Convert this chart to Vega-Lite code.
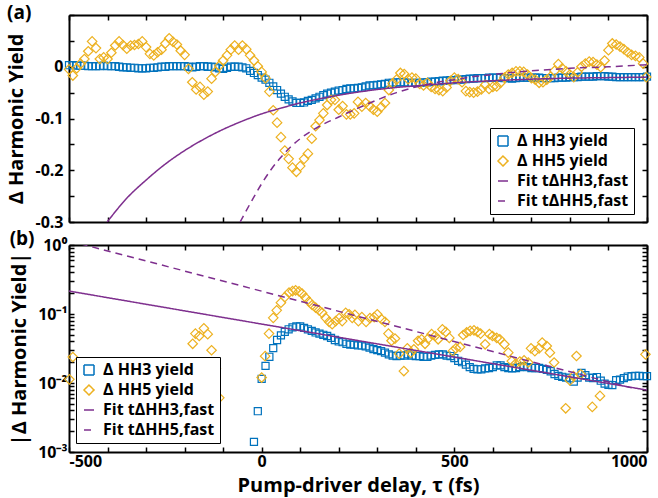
{
  "$schema": "https://vega.github.io/schema/vega-lite/v6.json",
  "padding": {"left": 6, "top": 4, "right": 6, "bottom": 2},
  "spacing": 0,
  "datasets": {
    "top_hh3": [
      {"t":-500,"v":0.003},{"t":-490,"v":0.003},{"t":-480,"v":0.002},{"t":-470,"v":0.002},{"t":-460,"v":0.002},
      {"t":-450,"v":0.001},{"t":-440,"v":0.001},{"t":-430,"v":0.001},{"t":-420,"v":0.001},{"t":-410,"v":0.002},
      {"t":-400,"v":0.001},{"t":-390,"v":0.001},{"t":-380,"v":0.001},{"t":-370,"v":0.000},{"t":-360,"v":-0.001},
      {"t":-350,"v":-0.001},{"t":-340,"v":-0.002},{"t":-330,"v":-0.002},{"t":-320,"v":-0.003},{"t":-310,"v":-0.003},
      {"t":-300,"v":-0.003},{"t":-290,"v":-0.002},{"t":-280,"v":-0.002},{"t":-270,"v":-0.001},{"t":-260,"v":0.000},
      {"t":-250,"v":0.000},{"t":-240,"v":0.001},{"t":-230,"v":0.001},{"t":-220,"v":0.001},{"t":-210,"v":0.001},
      {"t":-200,"v":0.001},{"t":-190,"v":0.000},{"t":-180,"v":-0.001},{"t":-170,"v":0.000},{"t":-160,"v":0.001},
      {"t":-150,"v":0.001},{"t":-140,"v":0.000},{"t":-130,"v":0.000},{"t":-120,"v":-0.001},{"t":-110,"v":-0.003},
      {"t":-100,"v":-0.004},{"t":-90,"v":-0.002},{"t":-80,"v":0.000},{"t":-70,"v":0.000},{"t":-60,"v":0.000},
      {"t":-50,"v":-0.001},{"t":-40,"v":-0.003},{"t":-30,"v":-0.008},{"t":-20,"v":-0.012},{"t":-10,"v":-0.016},
      {"t":0,"v":-0.021},{"t":10,"v":-0.025},{"t":20,"v":-0.031},{"t":30,"v":-0.038},{"t":40,"v":-0.045},
      {"t":50,"v":-0.052},{"t":60,"v":-0.058},{"t":70,"v":-0.063},{"t":80,"v":-0.067},{"t":90,"v":-0.070},
      {"t":100,"v":-0.070},{"t":110,"v":-0.069},{"t":120,"v":-0.066},{"t":130,"v":-0.064},{"t":140,"v":-0.061},
      {"t":150,"v":-0.058},{"t":160,"v":-0.055},{"t":170,"v":-0.052},{"t":180,"v":-0.050},{"t":190,"v":-0.048},
      {"t":200,"v":-0.046},{"t":210,"v":-0.045},{"t":220,"v":-0.043},{"t":230,"v":-0.042},{"t":240,"v":-0.042},
      {"t":250,"v":-0.041},{"t":260,"v":-0.040},{"t":270,"v":-0.038},{"t":280,"v":-0.036},{"t":290,"v":-0.036},
      {"t":300,"v":-0.035},{"t":310,"v":-0.034},{"t":320,"v":-0.033},{"t":330,"v":-0.031},{"t":340,"v":-0.031},
      {"t":350,"v":-0.030},{"t":360,"v":-0.030},{"t":370,"v":-0.030},{"t":380,"v":-0.031},{"t":390,"v":-0.031},
      {"t":400,"v":-0.031},{"t":410,"v":-0.031},{"t":420,"v":-0.030},{"t":430,"v":-0.030},{"t":440,"v":-0.029},
      {"t":450,"v":-0.029},{"t":460,"v":-0.028},{"t":470,"v":-0.027},{"t":480,"v":-0.027},{"t":490,"v":-0.026},
      {"t":500,"v":-0.026},{"t":510,"v":-0.025},{"t":520,"v":-0.025},{"t":530,"v":-0.024},{"t":540,"v":-0.023},
      {"t":550,"v":-0.023},{"t":560,"v":-0.022},{"t":570,"v":-0.022},{"t":580,"v":-0.022},{"t":590,"v":-0.021},
      {"t":600,"v":-0.021},{"t":610,"v":-0.021},{"t":620,"v":-0.021},{"t":630,"v":-0.022},{"t":640,"v":-0.022},
      {"t":650,"v":-0.023},{"t":660,"v":-0.022},{"t":670,"v":-0.021},{"t":680,"v":-0.021},{"t":690,"v":-0.021},
      {"t":700,"v":-0.021},{"t":710,"v":-0.021},{"t":720,"v":-0.021},{"t":730,"v":-0.022},{"t":740,"v":-0.022},
      {"t":750,"v":-0.022},{"t":760,"v":-0.022},{"t":770,"v":-0.021},{"t":780,"v":-0.021},{"t":790,"v":-0.021},
      {"t":800,"v":-0.020},{"t":810,"v":-0.020},{"t":820,"v":-0.020},{"t":830,"v":-0.019},{"t":840,"v":-0.019},
      {"t":850,"v":-0.019},{"t":860,"v":-0.019},{"t":870,"v":-0.018},{"t":880,"v":-0.018},{"t":890,"v":-0.018},
      {"t":900,"v":-0.019},{"t":910,"v":-0.019},{"t":920,"v":-0.020},{"t":930,"v":-0.020},{"t":940,"v":-0.020},
      {"t":950,"v":-0.020},{"t":960,"v":-0.020},{"t":970,"v":-0.020},{"t":980,"v":-0.020},{"t":990,"v":-0.020},
      {"t":1000,"v":-0.019}
    ],
    "top_hh5": [
      {"t":-500,"v":-0.005},{"t":-490,"v":-0.017},{"t":-480,"v":-0.003},{"t":-470,"v":0.006},{"t":-460,"v":0.015},
      {"t":-450,"v":0.030},{"t":-440,"v":0.049},{"t":-430,"v":0.036},{"t":-420,"v":0.015},{"t":-410,"v":0.018},
      {"t":-400,"v":0.015},{"t":-390,"v":0.027},{"t":-380,"v":0.041},{"t":-370,"v":0.049},{"t":-360,"v":0.042},
      {"t":-350,"v":0.035},{"t":-340,"v":0.041},{"t":-330,"v":0.042},{"t":-320,"v":0.044},{"t":-310,"v":0.049},
      {"t":-300,"v":0.038},{"t":-290,"v":0.025},{"t":-280,"v":0.022},{"t":-270,"v":0.028},{"t":-260,"v":0.033},
      {"t":-250,"v":0.045},{"t":-240,"v":0.055},{"t":-230,"v":0.048},{"t":-220,"v":0.043},{"t":-210,"v":0.031},
      {"t":-200,"v":0.023},{"t":-190,"v":-0.004},{"t":-180,"v":-0.030},{"t":-170,"v":-0.044},{"t":-160,"v":-0.039},
      {"t":-150,"v":-0.054},{"t":-140,"v":-0.048},{"t":-130,"v":-0.023},{"t":-120,"v":-0.010},{"t":-110,"v":0.002},
      {"t":-100,"v":0.012},{"t":-90,"v":0.022},{"t":-80,"v":0.033},{"t":-70,"v":0.041},{"t":-60,"v":0.033},
      {"t":-50,"v":0.041},{"t":-40,"v":0.034},{"t":-30,"v":0.022},{"t":-20,"v":0.012},{"t":-10,"v":0.001},
      {"t":0,"v":-0.010},{"t":10,"v":-0.022},{"t":20,"v":-0.048},{"t":30,"v":-0.084},{"t":40,"v":-0.108},
      {"t":50,"v":-0.136},{"t":60,"v":-0.162},{"t":70,"v":-0.178},{"t":80,"v":-0.195},{"t":90,"v":-0.203},
      {"t":100,"v":-0.192},{"t":110,"v":-0.178},{"t":120,"v":-0.168},{"t":130,"v":-0.139},{"t":140,"v":-0.115},
      {"t":150,"v":-0.103},{"t":160,"v":-0.090},{"t":170,"v":-0.074},{"t":180,"v":-0.064},{"t":190,"v":-0.064},
      {"t":200,"v":-0.083},{"t":210,"v":-0.076},{"t":220,"v":-0.092},{"t":230,"v":-0.092},{"t":240,"v":-0.090},
      {"t":250,"v":-0.068},{"t":260,"v":-0.077},{"t":270,"v":-0.070},{"t":280,"v":-0.076},{"t":290,"v":-0.083},
      {"t":300,"v":-0.087},{"t":310,"v":-0.078},{"t":320,"v":-0.070},{"t":330,"v":-0.045},{"t":340,"v":-0.032},
      {"t":350,"v":-0.025},{"t":360,"v":-0.012},{"t":370,"v":-0.014},{"t":380,"v":-0.024},{"t":390,"v":-0.021},
      {"t":400,"v":-0.023},{"t":410,"v":-0.033},{"t":420,"v":-0.036},{"t":430,"v":-0.031},{"t":440,"v":-0.039},
      {"t":450,"v":-0.043},{"t":460,"v":-0.045},{"t":470,"v":-0.047},{"t":480,"v":-0.040},{"t":490,"v":-0.027},
      {"t":500,"v":-0.021},{"t":510,"v":-0.024},{"t":520,"v":-0.030},{"t":530,"v":-0.047},{"t":540,"v":-0.049},
      {"t":550,"v":-0.050},{"t":560,"v":-0.048},{"t":570,"v":-0.044},{"t":580,"v":-0.035},{"t":590,"v":-0.043},
      {"t":600,"v":-0.039},{"t":610,"v":-0.038},{"t":620,"v":-0.031},{"t":630,"v":-0.021},{"t":640,"v":-0.015},
      {"t":650,"v":-0.012},{"t":660,"v":-0.009},{"t":670,"v":-0.009},{"t":680,"v":-0.010},{"t":690,"v":-0.015},
      {"t":700,"v":-0.022},{"t":710,"v":-0.025},{"t":720,"v":-0.031},{"t":730,"v":-0.030},{"t":740,"v":-0.025},
      {"t":750,"v":-0.019},{"t":760,"v":-0.008},{"t":770,"v":0.005},{"t":780,"v":-0.003},{"t":790,"v":-0.009},
      {"t":800,"v":-0.015},{"t":810,"v":-0.020},{"t":820,"v":-0.011},{"t":830,"v":0.000},{"t":840,"v":0.006},
      {"t":850,"v":0.010},{"t":860,"v":0.009},{"t":870,"v":0.004},{"t":880,"v":-0.001},{"t":890,"v":0.012},
      {"t":900,"v":0.032},{"t":910,"v":0.045},{"t":920,"v":0.043},{"t":930,"v":0.039},{"t":940,"v":0.034},
      {"t":950,"v":0.028},{"t":960,"v":0.023},{"t":970,"v":0.021},{"t":980,"v":0.018},{"t":990,"v":0.006},
      {"t":998,"v":-0.020}
    ],
    "top_fit3": [
      {"t":-401,"v":-0.300},{"t":-350,"v":-0.254},{"t":-300,"v":-0.219},{"t":-250,"v":-0.188},{"t":-200,"v":-0.162},
      {"t":-150,"v":-0.140},{"t":-100,"v":-0.121},{"t":-50,"v":-0.105},{"t":0,"v":-0.091},{"t":50,"v":-0.080},
      {"t":100,"v":-0.070},{"t":150,"v":-0.062},{"t":200,"v":-0.055},{"t":250,"v":-0.049},{"t":300,"v":-0.044},
      {"t":350,"v":-0.040},{"t":400,"v":-0.037},{"t":500,"v":-0.031},{"t":600,"v":-0.027},{"t":700,"v":-0.024},
      {"t":800,"v":-0.022},{"t":900,"v":-0.021},{"t":1000,"v":-0.020}
    ],
    "top_fit5": [
      {"t":-56,"v":-0.300},{"t":-25,"v":-0.258},{"t":0,"v":-0.226},{"t":25,"v":-0.198},{"t":50,"v":-0.175},
      {"t":75,"v":-0.155},{"t":100,"v":-0.139},{"t":125,"v":-0.126},{"t":150,"v":-0.115},{"t":200,"v":-0.097},
      {"t":250,"v":-0.080},{"t":300,"v":-0.064},{"t":350,"v":-0.050},{"t":400,"v":-0.039},{"t":450,"v":-0.031},
      {"t":500,"v":-0.025},{"t":550,"v":-0.019},{"t":600,"v":-0.015},{"t":650,"v":-0.011},{"t":700,"v":-0.008},
      {"t":800,"v":-0.003},{"t":900,"v":0.000},{"t":1000,"v":0.004}
    ],
    "bot_hh3": [
      {"t":-20,"v":0.0014},{"t":-10,"v":0.0039},{"t":0,"v":0.0115},{"t":10,"v":0.0177},{"t":20,"v":0.024},
      {"t":30,"v":0.032},{"t":40,"v":0.042},{"t":50,"v":0.049},{"t":60,"v":0.055},{"t":70,"v":0.060},
      {"t":80,"v":0.064},{"t":90,"v":0.066},{"t":100,"v":0.066},{"t":110,"v":0.063},{"t":120,"v":0.060},
      {"t":130,"v":0.057},{"t":140,"v":0.054},{"t":150,"v":0.052},{"t":160,"v":0.050},{"t":170,"v":0.048},
      {"t":180,"v":0.045},{"t":190,"v":0.042},{"t":200,"v":0.040},{"t":210,"v":0.039},{"t":220,"v":0.037},
      {"t":230,"v":0.036},{"t":240,"v":0.036},{"t":250,"v":0.035},{"t":260,"v":0.035},{"t":270,"v":0.034},
      {"t":280,"v":0.0325},{"t":290,"v":0.031},{"t":300,"v":0.030},{"t":310,"v":0.029},{"t":320,"v":0.0275},
      {"t":330,"v":0.026},{"t":340,"v":0.025},{"t":350,"v":0.0246},{"t":360,"v":0.025},{"t":370,"v":0.025},
      {"t":380,"v":0.026},{"t":390,"v":0.025},{"t":400,"v":0.0246},{"t":410,"v":0.0246},{"t":420,"v":0.024},
      {"t":430,"v":0.024},{"t":440,"v":0.025},{"t":450,"v":0.0255},{"t":460,"v":0.026},{"t":470,"v":0.026},
      {"t":480,"v":0.025},{"t":490,"v":0.0246},{"t":500,"v":0.023},{"t":510,"v":0.021},{"t":520,"v":0.020},
      {"t":530,"v":0.0185},{"t":540,"v":0.017},{"t":550,"v":0.016},{"t":560,"v":0.0158},{"t":570,"v":0.0158},
      {"t":580,"v":0.0163},{"t":590,"v":0.0165},{"t":600,"v":0.017},{"t":610,"v":0.018},{"t":620,"v":0.018},
      {"t":630,"v":0.017},{"t":640,"v":0.0165},{"t":650,"v":0.0163},{"t":660,"v":0.0165},{"t":670,"v":0.017},
      {"t":680,"v":0.0175},{"t":690,"v":0.017},{"t":700,"v":0.0165},{"t":710,"v":0.0165},{"t":720,"v":0.0165},
      {"t":730,"v":0.016},{"t":740,"v":0.0155},{"t":750,"v":0.0148},{"t":760,"v":0.0135},{"t":770,"v":0.0127},
      {"t":780,"v":0.0123},{"t":790,"v":0.012},{"t":800,"v":0.0117},{"t":810,"v":0.0105},{"t":820,"v":0.012},
      {"t":830,"v":0.014},{"t":840,"v":0.013},{"t":850,"v":0.012},{"t":860,"v":0.0118},{"t":870,"v":0.0122},
      {"t":880,"v":0.0108},{"t":890,"v":0.0098},{"t":900,"v":0.0094},{"t":910,"v":0.0093},{"t":920,"v":0.011},
      {"t":930,"v":0.0112},{"t":940,"v":0.0118},{"t":950,"v":0.0124},{"t":960,"v":0.0126},{"t":970,"v":0.0127},
      {"t":980,"v":0.0127},{"t":990,"v":0.0126},{"t":1000,"v":0.0126}
    ],
    "bot_hh5": [
      {"t":-499,"v":0.0113},{"t":-490,"v":0.0238},{"t":-179,"v":0.037},{"t":-172,"v":0.052},{"t":-162,"v":0.048},
      {"t":-150,"v":0.062},{"t":-140,"v":0.051},{"t":-130,"v":0.0298},{"t":-119,"v":0.0161},{"t":-110,"v":0.0061},
      {"t":0,"v":0.012},{"t":9,"v":0.0245},{"t":19,"v":0.052},{"t":30,"v":0.088},{"t":39,"v":0.113},
      {"t":50,"v":0.146},{"t":60,"v":0.176},{"t":71,"v":0.204},{"t":80,"v":0.215},{"t":88,"v":0.22},
      {"t":97,"v":0.213},{"t":105,"v":0.197},{"t":114,"v":0.172},{"t":123,"v":0.151},{"t":131,"v":0.135},
      {"t":140,"v":0.124},{"t":149,"v":0.113},{"t":157,"v":0.104},{"t":166,"v":0.088},{"t":175,"v":0.077},
      {"t":183,"v":0.071},{"t":192,"v":0.079},{"t":201,"v":0.087},{"t":209,"v":0.079},{"t":218,"v":0.104},
      {"t":227,"v":0.099},{"t":235,"v":0.088},{"t":242,"v":0.097},{"t":251,"v":0.079},{"t":260,"v":0.09},
      {"t":271,"v":0.077},{"t":281,"v":0.087},{"t":292,"v":0.09},{"t":300,"v":0.099},{"t":311,"v":0.084},
      {"t":320,"v":0.077},{"t":329,"v":0.052},{"t":337,"v":0.041},{"t":346,"v":0.044},{"t":357,"v":0.0266},
      {"t":369,"v":0.0149},{"t":378,"v":0.0318},{"t":387,"v":0.0275},{"t":395,"v":0.0308},{"t":406,"v":0.041},
      {"t":415,"v":0.043},{"t":424,"v":0.037},{"t":432,"v":0.044},{"t":441,"v":0.051},{"t":450,"v":0.048},
      {"t":458,"v":0.043},{"t":469,"v":0.06},{"t":478,"v":0.055},{"t":487,"v":0.045},{"t":496,"v":0.029},
      {"t":504,"v":0.0318},{"t":515,"v":0.0333},{"t":523,"v":0.0496},{"t":532,"v":0.054},{"t":541,"v":0.057},
      {"t":551,"v":0.058},{"t":560,"v":0.055},{"t":568,"v":0.052},{"t":580,"v":0.0364},{"t":591,"v":0.051},
      {"t":599,"v":0.048},{"t":610,"v":0.045},{"t":618,"v":0.043},{"t":630,"v":0.0364},{"t":640,"v":0.0275},
      {"t":649,"v":0.0208},{"t":659,"v":0.019},{"t":670,"v":0.0205},{"t":681,"v":0.0213},{"t":692,"v":0.0198},
      {"t":699,"v":0.0318},{"t":709,"v":0.029},{"t":720,"v":0.0318},{"t":728,"v":0.0385},{"t":740,"v":0.0344},
      {"t":748,"v":0.0275},{"t":759,"v":0.0198},{"t":789,"v":0.0043},{"t":800,"v":0.0109},{"t":809,"v":0.0126},
      {"t":817,"v":0.0246},{"t":828,"v":0.0134},{"t":858,"v":0.0045},{"t":878,"v":0.0065},{"t":996,"v":0.026}
    ],
    "bot_fit3": [{"t":-500,"v":0.215},{"t":1000,"v":0.0079}],
    "bot_fit5": [{"t":-500,"v":1.15},{"t":960,"v":0.0085}]
  },
  "vconcat": [
    {
      "width": 578,
      "height": 207,
      "title": {"text": "(a)", "anchor": "start", "frame": "bounds", "fontSize": 19, "fontWeight": "bold", "font": "Open Sans", "color": "black", "offset": -16},
      "layer": [
        {
          "data": {"name": "top_hh3"},
          "mark": {"type": "point", "filled": false, "size": 50, "strokeWidth": 1.2, "opacity": 1},
          "encoding": {
            "x": {"field": "t", "type": "quantitative", "scale": {"domain": [-500, 1000], "nice": false, "zero": false},
                  "axis": {"orient": "bottom", "values": [-500,-400,-300,-200,-100,0,100,200,300,400,500,600,700,800,900,1000], "labels": false, "title": null, "tickSize": -5}},
            "y": {"field": "v", "type": "quantitative", "scale": {"domain": [-0.3, 0.1], "nice": false, "zero": false},
                  "axis": {"orient": "left", "values": [-0.3,-0.25,-0.2,-0.15,-0.1,-0.05,0,0.05,0.1], "labelOverlap": false,
                           "labelExpr": "datum.value === 0 ? '0' : (datum.value < 0 && abs(datum.value*10 - round(datum.value*10)) < 1e-6) ? '-0.' + round(-datum.value*10) : ''",
                           "title": "Δ Harmonic Yield", "tickSize": -5, "labelPadding": 11, "titlePadding": 8}},
            "color": {"datum": "Δ HH3 yield", "type": "nominal",
                      "scale": {"domain": ["Δ HH3 yield", "Δ HH5 yield", "Fit tΔHH3,fast", "Fit tΔHH5,fast"], "range": ["#0072BD", "#EDB120", "#7E2F8E", "#7E2F8E"]},
                      "legend": {"title": null, "orient": "none", "legendX": 421, "legendY": 113, "direction": "vertical",
                                 "strokeColor": "black", "fillColor": "white", "padding": 5, "labelLimit": 0,
                                 "labelFont": "Open Sans", "labelFontWeight": "bold", "labelFontSize": 16, "labelColor": "black",
                                 "rowPadding": 4, "labelOffset": 6, "symbolSize": 100, "symbolStrokeWidth": 1.5, "symbolFillColor": "transparent"}},
            "shape": {"datum": "Δ HH3 yield", "type": "nominal",
                      "scale": {"domain": ["Δ HH3 yield", "Δ HH5 yield", "Fit tΔHH3,fast", "Fit tΔHH5,fast"], "range": ["square", "diamond", "stroke", "stroke"]},
                      "legend": {"title": null, "orient": "none", "legendX": 421, "legendY": 113, "direction": "vertical",
                                 "strokeColor": "black", "fillColor": "white", "padding": 5, "labelLimit": 0,
                                 "labelFont": "Open Sans", "labelFontWeight": "bold", "labelFontSize": 16, "labelColor": "black",
                                 "rowPadding": 4, "labelOffset": 6, "symbolSize": 100, "symbolStrokeWidth": 1.5, "symbolFillColor": "transparent"}}
          }
        },
        {
          "data": {"name": "top_hh5"},
          "mark": {"type": "point", "filled": false, "size": 90, "strokeWidth": 1.2, "opacity": 1},
          "encoding": {
            "x": {"field": "t", "type": "quantitative",
                  "axis": {"orient": "top", "values": [-500,-400,-300,-200,-100,0,100,200,300,400,500,600,700,800,900,1000], "labels": false, "title": null, "tickSize": -5}},
            "y": {"field": "v", "type": "quantitative",
                  "axis": {"orient": "right", "values": [-0.3,-0.25,-0.2,-0.15,-0.1,-0.05,0,0.05,0.1], "labels": false, "title": null, "tickSize": -5}},
            "color": {"datum": "Δ HH5 yield", "type": "nominal"},
            "shape": {"datum": "Δ HH5 yield", "type": "nominal"}
          }
        },
        {
          "data": {"name": "top_fit3"},
          "mark": {"type": "line", "interpolate": "monotone", "strokeWidth": 1.5, "clip": true},
          "encoding": {
            "x": {"field": "t", "type": "quantitative", "axis": null},
            "y": {"field": "v", "type": "quantitative", "axis": null},
            "color": {"datum": "Fit tΔHH3,fast", "type": "nominal"},
            "strokeDash": {"datum": "Fit tΔHH3,fast", "type": "nominal",
                           "scale": {"domain": ["Δ HH3 yield", "Δ HH5 yield", "Fit tΔHH3,fast", "Fit tΔHH5,fast"], "range": [[1, 0], [1, 0], [1, 0], [7, 5]]},
                           "legend": {"title": null, "orient": "none", "legendX": 421, "legendY": 113, "direction": "vertical",
                                      "strokeColor": "black", "fillColor": "white", "padding": 5, "labelLimit": 0,
                                      "labelFont": "Open Sans", "labelFontWeight": "bold", "labelFontSize": 16, "labelColor": "black",
                                      "rowPadding": 4, "labelOffset": 6, "symbolSize": 100, "symbolStrokeWidth": 1.5, "symbolFillColor": "transparent"}}
          }
        },
        {
          "data": {"name": "top_fit5"},
          "mark": {"type": "line", "interpolate": "monotone", "strokeWidth": 1.5, "clip": true},
          "encoding": {
            "x": {"field": "t", "type": "quantitative", "axis": null},
            "y": {"field": "v", "type": "quantitative", "axis": null},
            "color": {"datum": "Fit tΔHH5,fast", "type": "nominal"},
            "strokeDash": {"datum": "Fit tΔHH5,fast", "type": "nominal"}
          }
        }
      ],
      "resolve": {"axis": {"x": "independent", "y": "independent"}}
    },
    {
      "width": 578,
      "height": 207,
      "title": {"text": "(b)", "anchor": "start", "frame": "bounds", "fontSize": 19, "fontWeight": "bold", "font": "Open Sans", "color": "black", "offset": -12},
      "layer": [
        {
          "data": {"name": "bot_hh3"},
          "mark": {"type": "point", "filled": false, "size": 50, "strokeWidth": 1.2, "opacity": 1},
          "encoding": {
            "x": {"field": "t", "type": "quantitative", "scale": {"domain": [-500, 1000], "nice": false, "zero": false},
                  "axis": {"orient": "bottom", "values": [-500,-400,-300,-200,-100,0,100,200,300,400,500,600,700,800,900,1000], "labelOverlap": false,
                           "labelExpr": "datum.value % 500 === 0 ? '' + datum.value : ''", "labelFlush": true,
                           "title": "Pump-driver delay, τ (fs)", "tickSize": -5, "labelPadding": 6, "titlePadding": 6}},
            "y": {"field": "v", "type": "quantitative", "scale": {"type": "log", "domain": [0.001, 1], "nice": false},
                  "axis": {"orient": "left", "labelOverlap": false,
                           "values": [0.001,0.002,0.003,0.004,0.005,0.006,0.007,0.008,0.009,0.01,0.02,0.03,0.04,0.05,0.06,0.07,0.08,0.09,0.1,0.2,0.3,0.4,0.5,0.6,0.7,0.8,0.9,1],
                           "labelExpr": "datum.value === 1 ? '10⁰' : datum.value === 0.1 ? '10⁻¹' : datum.value === 0.01 ? '10⁻²' : datum.value === 0.001 ? '10⁻³' : ''",
                           "title": "|Δ Harmonic Yield|", "tickSize": -5, "labelPadding": 7, "titlePadding": 8}},
            "color": {"datum": "Δ HH3 yield", "type": "nominal",
                      "scale": {"domain": ["Δ HH3 yield", "Δ HH5 yield", "Fit tΔHH3,fast", "Fit tΔHH5,fast"], "range": ["#0072BD", "#EDB120", "#7E2F8E", "#7E2F8E"]},
                      "legend": {"title": null, "orient": "none", "legendX": 7, "legendY": 112, "direction": "vertical",
                                 "strokeColor": "black", "fillColor": "white", "padding": 5, "labelLimit": 0,
                                 "labelFont": "Open Sans", "labelFontWeight": "bold", "labelFontSize": 16, "labelColor": "black",
                                 "rowPadding": 4, "labelOffset": 6, "symbolSize": 100, "symbolStrokeWidth": 1.5, "symbolFillColor": "transparent"}},
            "shape": {"datum": "Δ HH3 yield", "type": "nominal",
                      "scale": {"domain": ["Δ HH3 yield", "Δ HH5 yield", "Fit tΔHH3,fast", "Fit tΔHH5,fast"], "range": ["square", "diamond", "stroke", "stroke"]},
                      "legend": {"title": null, "orient": "none", "legendX": 7, "legendY": 112, "direction": "vertical",
                                 "strokeColor": "black", "fillColor": "white", "padding": 5, "labelLimit": 0,
                                 "labelFont": "Open Sans", "labelFontWeight": "bold", "labelFontSize": 16, "labelColor": "black",
                                 "rowPadding": 4, "labelOffset": 6, "symbolSize": 100, "symbolStrokeWidth": 1.5, "symbolFillColor": "transparent"}}
          }
        },
        {
          "data": {"name": "bot_hh5"},
          "mark": {"type": "point", "filled": false, "size": 90, "strokeWidth": 1.2, "opacity": 1},
          "encoding": {
            "x": {"field": "t", "type": "quantitative",
                  "axis": {"orient": "top", "values": [-500,-400,-300,-200,-100,0,100,200,300,400,500,600,700,800,900,1000], "labels": false, "title": null, "tickSize": -5}},
            "y": {"field": "v", "type": "quantitative",
                  "axis": {"orient": "right", "values": [0.001,0.002,0.003,0.004,0.005,0.006,0.007,0.008,0.009,0.01,0.02,0.03,0.04,0.05,0.06,0.07,0.08,0.09,0.1,0.2,0.3,0.4,0.5,0.6,0.7,0.8,0.9,1], "labels": false, "title": null, "tickSize": -5}},
            "color": {"datum": "Δ HH5 yield", "type": "nominal"},
            "shape": {"datum": "Δ HH5 yield", "type": "nominal"}
          }
        },
        {
          "data": {"name": "bot_fit3"},
          "mark": {"type": "line", "strokeWidth": 1.5, "clip": true},
          "encoding": {
            "x": {"field": "t", "type": "quantitative", "axis": null},
            "y": {"field": "v", "type": "quantitative", "axis": null},
            "color": {"datum": "Fit tΔHH3,fast", "type": "nominal"},
            "strokeDash": {"datum": "Fit tΔHH3,fast", "type": "nominal",
                           "scale": {"domain": ["Δ HH3 yield", "Δ HH5 yield", "Fit tΔHH3,fast", "Fit tΔHH5,fast"], "range": [[1, 0], [1, 0], [1, 0], [7, 5]]},
                           "legend": {"title": null, "orient": "none", "legendX": 7, "legendY": 112, "direction": "vertical",
                                      "strokeColor": "black", "fillColor": "white", "padding": 5, "labelLimit": 0,
                                      "labelFont": "Open Sans", "labelFontWeight": "bold", "labelFontSize": 16, "labelColor": "black",
                                      "rowPadding": 4, "labelOffset": 6, "symbolSize": 100, "symbolStrokeWidth": 1.5, "symbolFillColor": "transparent"}}
          }
        },
        {
          "data": {"name": "bot_fit5"},
          "mark": {"type": "line", "strokeWidth": 1.5, "clip": true},
          "encoding": {
            "x": {"field": "t", "type": "quantitative", "axis": null},
            "y": {"field": "v", "type": "quantitative", "axis": null},
            "color": {"datum": "Fit tΔHH5,fast", "type": "nominal"},
            "strokeDash": {"datum": "Fit tΔHH5,fast", "type": "nominal"}
          }
        }
      ],
      "resolve": {"axis": {"x": "independent", "y": "independent"}}
    }
  ],
  "resolve": {"scale": {"color": "independent", "shape": "independent", "strokeDash": "independent"}, "legend": {"color": "independent", "shape": "independent", "strokeDash": "independent"}},
  "config": {
    "font": "Open Sans",
    "view": {"stroke": null},
    "axis": {
      "grid": false,
      "domainColor": "black", "domainWidth": 2,
      "tickColor": "black", "tickWidth": 1.5,
      "labelFont": "Open Sans", "labelFontWeight": "bold", "labelFontSize": 16, "labelColor": "black",
      "titleFont": "Open Sans", "titleFontWeight": "bold", "titleFontSize": 20, "titleColor": "black"
    }
  }
}
